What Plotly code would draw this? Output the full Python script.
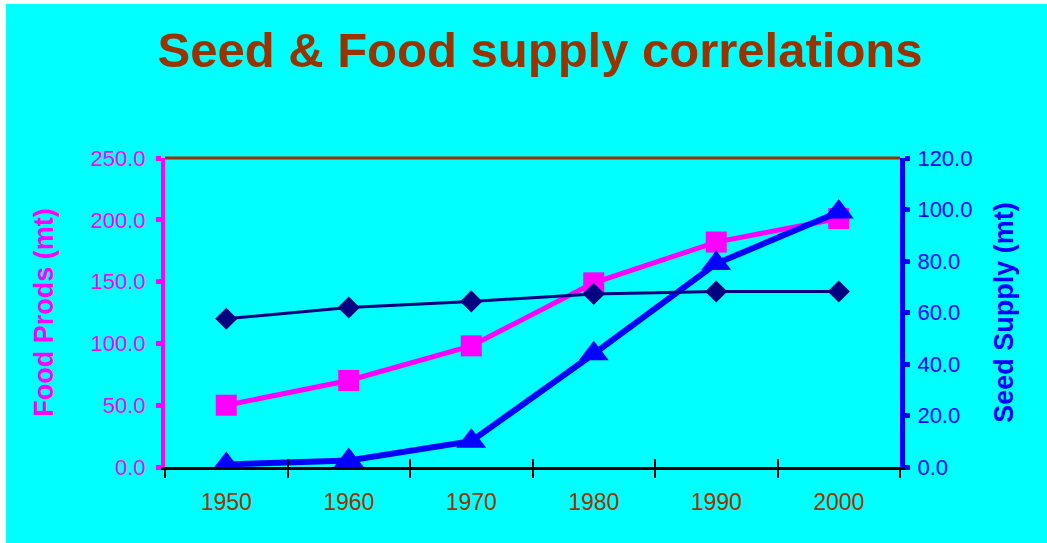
import plotly.graph_objects as go

years = ["1950", "1960", "1970", "1980", "1990", "2000"]
food_prods = [50, 70, 98, 149, 182, 201]
seed_supply = [1, 2.5, 10, 44, 79, 99]
third_series = [120, 129, 134, 140, 142, 142]

CYAN = "#00FFFF"
MAGENTA = "#FF00FF"
BLUE = "#0000FF"
NAVY = "#000080"
BROWN = "#993300"
FONT = "Liberation Sans, Arial, sans-serif"

W, H = 1047, 543
L, R, T, B = 165, 147, 158, 76
pw, ph = W - L - R, H - T - B

fig = go.Figure()

fig.add_trace(go.Scatter(
    x=years, y=third_series, xaxis="x3", yaxis="y", mode="lines+markers",
    line=dict(color=NAVY, width=3),
    marker=dict(symbol="diamond", size=17, color=NAVY),
    name="Series 3", showlegend=False))

fig.add_trace(go.Scatter(
    x=years, y=food_prods, xaxis="x", yaxis="y", mode="lines+markers",
    line=dict(color=MAGENTA, width=5),
    marker=dict(symbol="square", size=21, color=MAGENTA),
    name="Food Prods (mt)", showlegend=False))

fig.add_trace(go.Scatter(
    x=years, y=seed_supply, xaxis="x", yaxis="y2", mode="lines+markers",
    line=dict(color=BLUE, width=6),
    marker=dict(symbol="triangle-up", size=26, color=BLUE),
    name="Seed Supply (mt)", showlegend=False))

# white strips at the left and top edges of a cyan page
fig.add_shape(type="rect", xref="paper", yref="paper", layer="below",
              x0=(0 - L) / pw, x1=(6 - L) / pw,
              y0=(H - B - H) / ph, y1=(H - B) / ph,
              fillcolor="white", line=dict(width=0))
fig.add_shape(type="rect", xref="paper", yref="paper", layer="below",
              x0=(0 - L) / pw, x1=(W - L) / pw,
              y0=(H - B - 4) / ph, y1=(H - B) / ph,
              fillcolor="white", line=dict(width=0))
fig.add_shape(type="line", xref="paper", yref="paper",
              x0=0, x1=1, y0=1, y1=1, line=dict(color=BROWN, width=3))

fig.update_layout(
    width=W, height=H,
    margin=dict(l=L, r=R, t=T, b=B),
    paper_bgcolor=CYAN, plot_bgcolor=CYAN,
    title=dict(text="<b>Seed & Food supply correlations</b>",
               x=540 / W, xanchor="center", y=1 - 50 / H, yanchor="middle",
               font=dict(family=FONT, size=49, color=BROWN)),
    xaxis=dict(type="category", categoryorder="array", categoryarray=years,
               range=[-0.5, 5.5], showgrid=False, zeroline=False,
               showline=True, linecolor="black", linewidth=3,
               ticks="outside", tickson="boundaries", ticklen=8, tickwidth=2,
               tickcolor="black", ticklabelstandoff=12,
               tickfont=dict(family=FONT, size=23, color=BROWN)),
    xaxis3=dict(type="category", categoryorder="array", categoryarray=years,
                overlaying="x", range=[-0.5, 5.5], showgrid=False, zeroline=False,
                showline=False, ticks="inside", tickson="boundaries", ticklen=8,
                tickwidth=2, tickcolor="black", showticklabels=False, side="bottom"),
    yaxis=dict(range=[0, 250], dtick=50, tick0=0, tickformat=".1f",
               showgrid=False, zeroline=False,
               showline=True, linecolor=MAGENTA, linewidth=4,
               ticks="outside", ticklen=5, tickwidth=5, tickcolor=MAGENTA,
               ticklabelstandoff=6,
               tickfont=dict(family=FONT, size=22, color=MAGENTA),
               title=dict(text="<b>Food Prods (mt)</b>", standoff=30,
                          font=dict(family=FONT, size=27, color=MAGENTA))),
    yaxis3=dict(overlaying="y", matches="y", range=[0, 250], dtick=50,
                showgrid=False, zeroline=False, showline=False,
                ticks="inside", ticklen=5, tickwidth=5, tickcolor=MAGENTA,
                showticklabels=False, side="left"),
    yaxis2=dict(range=[0, 120], dtick=20, tick0=0, tickformat=".1f",
                overlaying="y", side="right",
                showgrid=False, zeroline=False,
                showline=True, linecolor=BLUE, linewidth=5,
                ticks="outside", ticklen=5, tickwidth=5, tickcolor=BLUE,
                ticklabelstandoff=3,
                tickfont=dict(family=FONT, size=22, color=BLUE),
                title=dict(text="<b>Seed Supply (mt)</b>", standoff=24,
                           font=dict(family=FONT, size=27, color=BLUE))),
    yaxis4=dict(overlaying="y", range=[0, 120], dtick=20, side="right",
                showgrid=False, zeroline=False, showline=False,
                ticks="inside", ticklen=5, tickwidth=5, tickcolor=BLUE,
                showticklabels=False),
)

fig.write_html("out.html")
